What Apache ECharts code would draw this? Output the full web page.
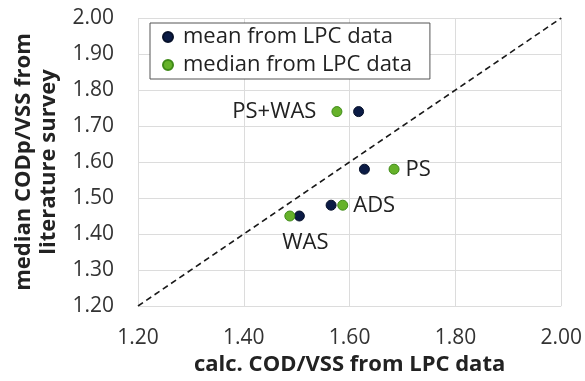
<!DOCTYPE html>
<html><head><meta charset="utf-8">
<script src="https://cdn.jsdelivr.net/npm/echarts@6/dist/echarts.min.js"></script>
<style>html,body{margin:0;padding:0;background:#fff}#c{width:585px;height:381px}</style>
</head><body><div id="c"></div>
<script>
const categories = ['WAS', 'ADS', 'PS', 'PS+WAS'];
const meanX = [1.505, 1.565, 1.628, 1.617];
const meanY = [1.45, 1.48, 1.58, 1.74];
const medianX = [1.487, 1.587, 1.684, 1.576];
const medianY = [1.45, 1.48, 1.58, 1.74];
const diagonal = [[1.2, 1.2], [2.0, 2.0]];
const tickMin = 1.2, tickMax = 2.0;

const F = '"Open Sans", "Noto Sans", sans-serif';
const labelCfg = {
  'PS+WAS': {series: 'median', position: 'left', distance: 15, offset: [0, 0]},
  'PS': {series: 'median', position: 'right', distance: 6, offset: [0, 1]},
  'ADS': {series: 'median', position: 'right', distance: 5, offset: [0, 1]},
  'WAS': {series: 'mean', position: 'bottom', distance: 10, offset: [6, 0]}
};
function build(xs, ys, key) {
  return xs.map((x, i) => {
    const c = categories[i];
    const cfg = labelCfg[c];
    const d = {value: [x, ys[i]], name: c};
    if (cfg && cfg.series === key) {
      d.label = {show: true, formatter: c, position: cfg.position, distance: cfg.distance,
        offset: cfg.offset, fontFamily: F, fontSize: 22, color: '#222'};
    }
    return d;
  });
}
const chart = echarts.init(document.getElementById('c'));
chart.setOption({
  animation: false,
  grid: {left: 138, right: 22, top: 18, bottom: 75},
  legend: {
    orient: 'vertical', left: 150, top: 23, itemGap: 6,
    padding: [3, 18, 3, 12],
    borderColor: '#555', borderWidth: 1, backgroundColor: '#fff',
    itemWidth: 20, itemHeight: 10,
    textStyle: {fontFamily: F, fontSize: 22, color: '#222'},
    data: [{name: 'mean from LPC data', icon: 'circle'}, {name: 'median from LPC data', icon: 'circle'}]
  },
  xAxis: {
    type: 'value', min: tickMin, max: tickMax, interval: 0.2,
    name: 'calc. COD/VSS from LPC data', nameLocation: 'middle', nameGap: 46,
    nameTextStyle: {fontFamily: F, fontSize: 22, fontWeight: 'bold', color: '#222'},
    axisLine: {show: false}, axisTick: {show: false},
    axisLabel: {fontFamily: F, fontSize: 21, color: '#333', margin: 22, formatter: v => v.toFixed(2)},
    splitLine: {show: true, lineStyle: {color: '#dcdcdc', width: 1}}
  },
  yAxis: {
    type: 'value', min: tickMin, max: tickMax, interval: 0.1,
    name: 'median CODp/VSS from\nliterature survey', nameLocation: 'middle', nameGap: 75,
    nameTextStyle: {fontFamily: F, fontSize: 22, fontWeight: 'bold', color: '#222', lineHeight: 25},
    axisLine: {show: false}, axisTick: {show: false},
    axisLabel: {fontFamily: F, fontSize: 21, color: '#333', margin: 24, formatter: v => v.toFixed(2)},
    splitLine: {show: true, lineStyle: {color: '#dcdcdc', width: 1}}
  },
  series: [
    {type: 'line', data: diagonal, symbol: 'none', silent: true, z: 1,
     lineStyle: {color: '#1a1a1a', width: 1.6, type: [6, 4]}},
    {name: 'mean from LPC data', type: 'scatter', symbolSize: 10, z: 3,
     itemStyle: {color: '#0b1b45', borderColor: '#061029', borderWidth: 1, opacity: 1},
     data: build(meanX, meanY, 'mean')},
    {name: 'median from LPC data', type: 'scatter', symbolSize: 10, z: 4,
     itemStyle: {color: '#66b22a', borderColor: '#3f8a18', borderWidth: 1, opacity: 1},
     data: build(medianX, medianY, 'median')}
  ]
});
</script></body></html>
